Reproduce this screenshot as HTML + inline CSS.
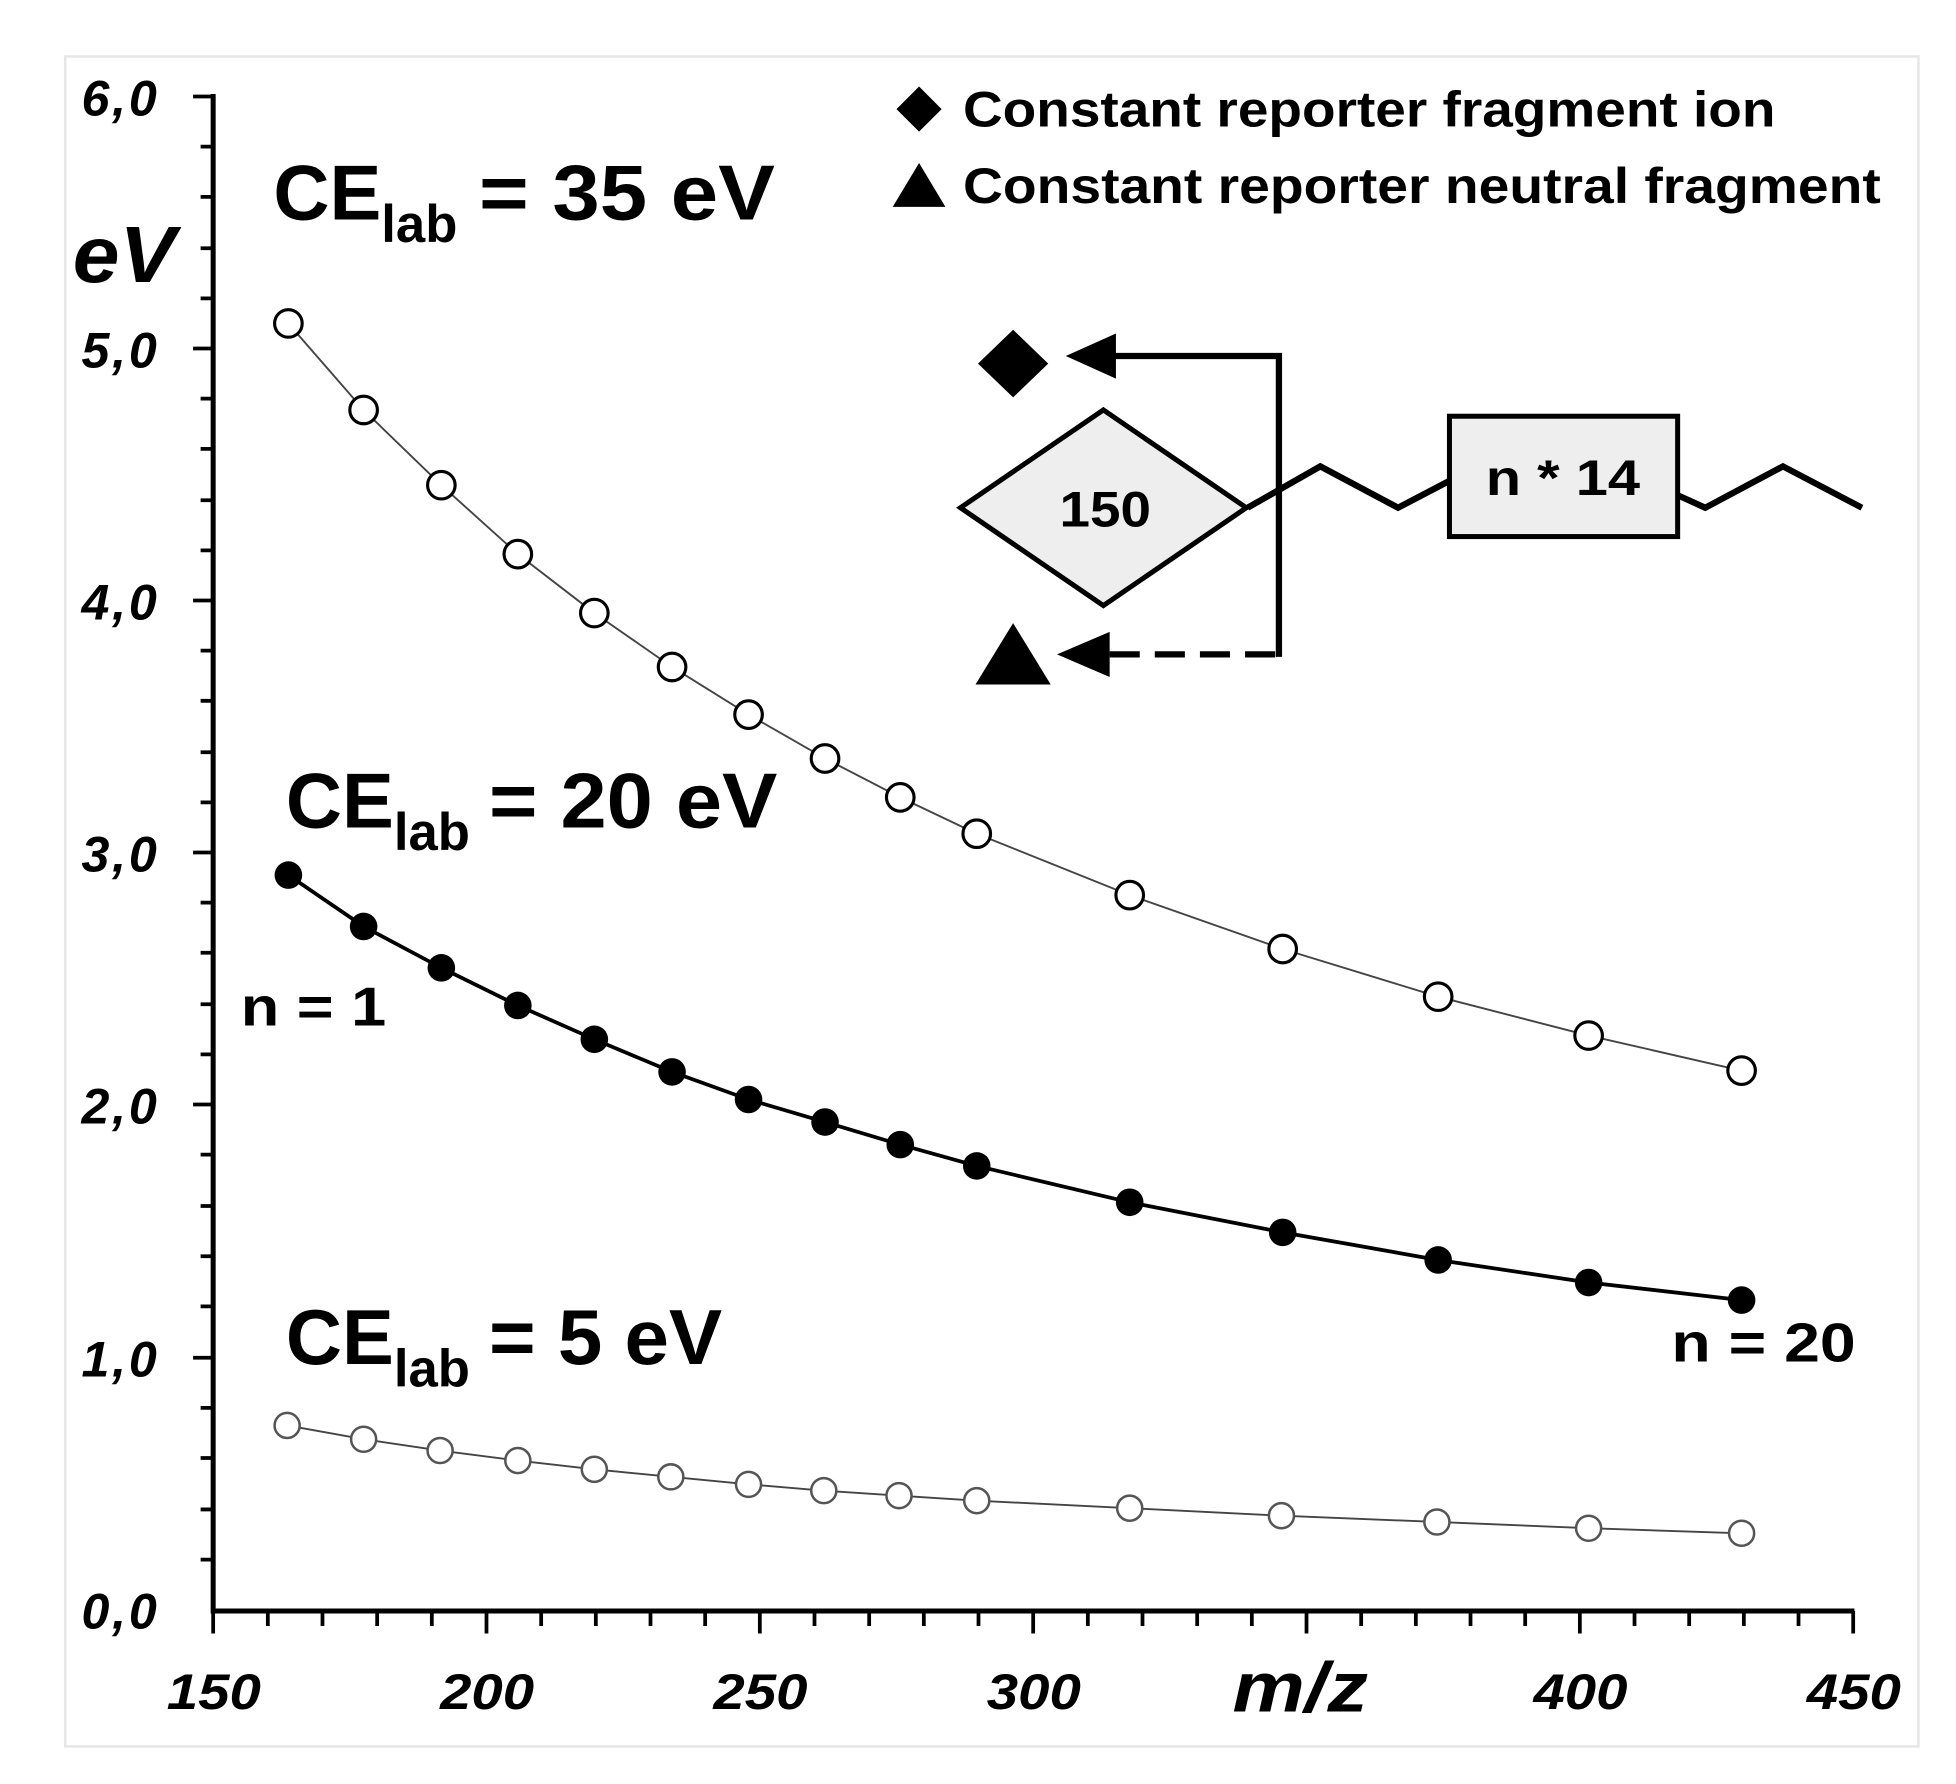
<!DOCTYPE html>
<html><head><meta charset="utf-8"><style>
html,body{margin:0;padding:0;background:#fff;}
svg{display:block;}
text{font-family:"Liberation Sans",sans-serif;font-weight:bold;fill:#000;}
</style></head><body>
<svg width="1956" height="1784" viewBox="0 0 1560 1423" preserveAspectRatio="none" xmlns="http://www.w3.org/2000/svg">
<rect x="52" y="45" width="1478" height="1348" fill="#fff" stroke="#e6e6e6" stroke-width="2"/>
<g stroke="#000" stroke-width="4" fill="none">
<path d="M170 75 V1287 M168 1285 H1479"/>
</g>
<g stroke="#000" stroke-width="3">
<path d="
M154 77H170 M160 117H170 M160 157H170 M160 198H170 M160 238H170
M154 278H170 M160 318H170 M160 358H170 M160 399H170 M160 439H170
M154 479H170 M160 519H170 M160 559H170 M160 600H170 M160 640H170
M154 680H170 M160 720H170 M160 760H170 M160 801H170 M160 841H170
M154 881H170 M160 921H170 M160 962H170 M160 1002H170 M160 1042H170
M154 1083H170 M160 1123H170 M160 1163H170 M160 1204H170 M160 1244H170"/>
<path d="M170 1285V1303 M213.6 1285V1297 M257.2 1285V1297 M300.8 1285V1297 M344.4 1285V1297 M388 1285V1303 M431.6 1285V1297 M475.2 1285V1297 M518.8 1285V1297 M562.4 1285V1297 M606 1285V1303 M649.6 1285V1297 M693.2 1285V1297 M736.8 1285V1297 M780.4 1285V1297 M824 1285V1303 M867.6 1285V1297 M911.2 1285V1297 M954.8 1285V1297 M998.4 1285V1297 M1042 1285V1303 M1085.6 1285V1297 M1129.2 1285V1297 M1172.8 1285V1297 M1216.4 1285V1297 M1260 1285V1303 M1303.6 1285V1297 M1347.2 1285V1297 M1390.8 1285V1297 M1434.4 1285V1297 M1478 1285V1303"/>
</g>
<g font-style="italic" font-size="40" lengthAdjust="spacingAndGlyphs">
<text x="65" y="92" textLength="60">6,0</text><text x="65" y="293" textLength="60">5,0</text><text x="65" y="494" textLength="60">4,0</text>
<text x="65" y="695" textLength="60">3,0</text><text x="65" y="896" textLength="60">2,0</text><text x="65" y="1098" textLength="60">1,0</text><text x="65" y="1299" textLength="60">0,0</text>
</g>
<g font-style="italic" font-size="40">
<text x="133" y="1363" textLength="75" lengthAdjust="spacingAndGlyphs">150</text>
<text x="351" y="1363" textLength="75" lengthAdjust="spacingAndGlyphs">200</text>
<text x="569" y="1363" textLength="75" lengthAdjust="spacingAndGlyphs">250</text>
<text x="787" y="1363" textLength="75" lengthAdjust="spacingAndGlyphs">300</text>
<text x="1223" y="1363" textLength="75" lengthAdjust="spacingAndGlyphs">400</text>
<text x="1441" y="1363" textLength="75" lengthAdjust="spacingAndGlyphs">450</text>
</g>
<text x="58" y="225" font-size="64" font-style="italic" textLength="82" lengthAdjust="spacingAndGlyphs">eV</text>
<text x="983" y="1365" font-size="56" font-style="italic" textLength="108" lengthAdjust="spacingAndGlyphs">m/z</text>
<polyline fill="none" stroke="#444" stroke-width="1.5" points="230,258 290,327 352,387 413,442 474,489 536,532 597,570 658,605 718,636 779,665 901,714 1023,757 1147,795 1267,826 1389,854"/>
<polyline fill="none" stroke="#000" stroke-width="3" points="230,698 290,739 352,772 413,802 474,829 536,855 597,877 658,895 718,913 779,930 901,959 1023,983 1147,1005 1267,1023 1389,1037"/>
<polyline fill="none" stroke="#444" stroke-width="1.5" points="229,1137 290,1148 351,1157 413,1165 474,1172 535,1178 597,1184 657,1189 717,1193 779,1197 901,1203 1022,1209 1146,1214 1267,1219 1389,1223"/>
<g fill="#fff" stroke="#000" stroke-width="2.5">
<circle cx="230" cy="258" r="11"/><circle cx="290" cy="327" r="11"/><circle cx="352" cy="387" r="11"/><circle cx="413" cy="442" r="11"/><circle cx="474" cy="489" r="11"/><circle cx="536" cy="532" r="11"/><circle cx="597" cy="570" r="11"/><circle cx="658" cy="605" r="11"/><circle cx="718" cy="636" r="11"/><circle cx="779" cy="665" r="11"/><circle cx="901" cy="714" r="11"/><circle cx="1023" cy="757" r="11"/><circle cx="1147" cy="795" r="11"/><circle cx="1267" cy="826" r="11"/><circle cx="1389" cy="854" r="11"/>
</g>
<g fill="#000">
<circle cx="230" cy="698" r="11"/><circle cx="290" cy="739" r="11"/><circle cx="352" cy="772" r="11"/><circle cx="413" cy="802" r="11"/><circle cx="474" cy="829" r="11"/><circle cx="536" cy="855" r="11"/><circle cx="597" cy="877" r="11"/><circle cx="658" cy="895" r="11"/><circle cx="718" cy="913" r="11"/><circle cx="779" cy="930" r="11"/><circle cx="901" cy="959" r="11"/><circle cx="1023" cy="983" r="11"/><circle cx="1147" cy="1005" r="11"/><circle cx="1267" cy="1023" r="11"/><circle cx="1389" cy="1037" r="11"/>
</g>
<g fill="#fff" stroke="#555" stroke-width="2">
<circle cx="229" cy="1137" r="10"/><circle cx="290" cy="1148" r="10"/><circle cx="351" cy="1157" r="10"/><circle cx="413" cy="1165" r="10"/><circle cx="474" cy="1172" r="10"/><circle cx="535" cy="1178" r="10"/><circle cx="597" cy="1184" r="10"/><circle cx="657" cy="1189" r="10"/><circle cx="717" cy="1193" r="10"/><circle cx="779" cy="1197" r="10"/><circle cx="901" cy="1203" r="10"/><circle cx="1022" cy="1209" r="10"/><circle cx="1146" cy="1214" r="10"/><circle cx="1267" cy="1219" r="10"/><circle cx="1389" cy="1223" r="10"/>
</g>
<text x="218" y="175" font-size="62">CE<tspan font-size="42" dy="18">lab</tspan><tspan dy="-18" x="382" textLength="236" lengthAdjust="spacingAndGlyphs">= 35 eV</tspan></text>
<text x="228" y="660" font-size="62">CE<tspan font-size="42" dy="18">lab</tspan><tspan dy="-18" x="390" textLength="230" lengthAdjust="spacingAndGlyphs">= 20 eV</tspan></text>
<text x="228" y="1088" font-size="62">CE<tspan font-size="42" dy="18">lab</tspan><tspan dy="-18" x="390" textLength="186" lengthAdjust="spacingAndGlyphs">= 5 eV</tspan></text>
<text x="192" y="818" font-size="44" textLength="116" lengthAdjust="spacingAndGlyphs">n = 1</text>
<text x="1333" y="1086" font-size="44" textLength="147" lengthAdjust="spacingAndGlyphs">n = 20</text>
<path d="M733 69 L751 87 L733 105 L715 87Z" fill="#000"/>
<path d="M733 130 L754 165 L712 165Z" fill="#000"/>
<text x="768" y="101" font-size="40" textLength="648" lengthAdjust="spacingAndGlyphs">Constant reporter fragment ion</text>
<text x="768" y="162" font-size="40" textLength="732" lengthAdjust="spacingAndGlyphs">Constant reporter neutral fragment</text>
<path d="M808 263 L836 290 L808 317 L780 290Z" fill="#000"/>
<path d="M808 497 L838 546 L778 546Z" fill="#000"/>
<path d="M850 284 L890 266 L890 302Z" fill="#000"/>
<path d="M843 522 L885 504 L885 540Z" fill="#000"/>
<g stroke="#000" stroke-width="5" fill="none">
<path d="M885 284 H1020 V524"/>
<path d="M885 522 H1022" stroke-dasharray="24 12"/>
<path d="M995 405 L1053 372 L1115 405 L1157 383"/>
<path d="M1338 395 L1360 405 L1422 372 L1485 405"/>
</g>
<path d="M880 327 L994 405 L880 483 L766 405Z" fill="#eee" stroke="#000" stroke-width="4"/>
<rect x="1156" y="332" width="182" height="96" fill="#eee" stroke="#000" stroke-width="4"/>
<text x="845" y="420" font-size="40" textLength="73" lengthAdjust="spacingAndGlyphs">150</text>
<text x="1185" y="395" font-size="40" textLength="123" lengthAdjust="spacingAndGlyphs">n * 14</text>
</svg>
</body></html>
